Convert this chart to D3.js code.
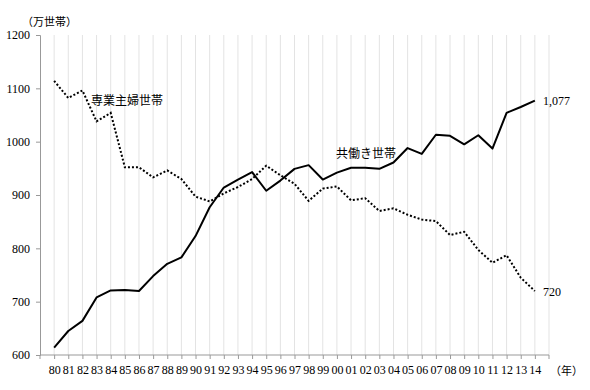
<!DOCTYPE html>
<html><head><meta charset="utf-8">
<script src="https://cdn.jsdelivr.net/npm/d3@7"></script>
<style>body{margin:0;background:#fff}svg{display:block}</style>
</head><body>
<svg id="c" width="590" height="390"></svg>
<script>
const years = ["80","81","82","83","84","85","86","87","88","89","90","91","92","93","94","95","96","97","98","99","00","01","02","03","04","05","06","07","08","09","10","11","12","13","14"];
const housewife = [1114,1082,1096,1038,1054,952,952,933,946,930,897,888,903,915,930,955,937,921,889,912,916,890,894,870,875,863,854,851,825,831,797,773,787,745,720];
const dualIncome = [614,645,664,708,721,722,720,748,771,783,823,877,914,929,943,908,927,949,956,929,942,951,951,949,961,988,977,1013,1011,995,1012,987,1054,1065,1077];
const yTicks = [600,700,800,900,1000,1100,1200];

const svg = d3.select("#c");
const L = 40, R = 549, T = 35, B = 355;
const x = d3.scalePoint().domain(years).range([L, R]).padding(1);
const y = d3.scaleLinear().domain([600, 1200]).range([B, T]);
const numFont = "'Liberation Serif', serif";
const jpFont = "'Noto Sans CJK JP', sans-serif";

// vertical gridlines
const gx = years.map(d => x(d)).concat([R]);
svg.append("g").selectAll("line").data(gx).join("line")
  .attr("x1", d => d).attr("x2", d => d).attr("y1", T).attr("y2", B)
  .attr("stroke", "#e3e3e3").attr("stroke-width", 1);

// y axis
const ya = svg.append("g").attr("transform", `translate(${L},0)`)
  .call(d3.axisLeft(y).tickValues(yTicks).tickSize(4).tickPadding(6).tickFormat(d3.format("d")));
ya.select(".domain").attr("stroke", "#999");
ya.selectAll(".tick line").attr("stroke", "#999");
ya.selectAll("text").attr("font-family", numFont).attr("font-size", 12).attr("fill", "#000");

// x axis
const xa = svg.append("g").attr("transform", `translate(0,${B})`)
  .call(d3.axisBottom(x).tickSize(4).tickPadding(6).tickSizeOuter(0));
xa.select(".domain").attr("stroke", "#999").attr("d", `M${L},0H${R}`);
xa.selectAll(".tick line").attr("stroke", "#999");
xa.selectAll("text").attr("font-family", numFont).attr("font-size", 12).attr("fill", "#000");
// outer tick marks
svg.append("g").selectAll("line").data([L, R]).join("line")
  .attr("x1", d => d).attr("x2", d => d).attr("y1", B).attr("y2", B + 4).attr("stroke", "#999");

const line = d3.line().x((d, i) => x(years[i])).y(d => y(d));
svg.append("path").datum(housewife).attr("d", line).attr("fill", "none")
  .attr("stroke", "#000").attr("stroke-width", 2).attr("stroke-dasharray", "2,2");
svg.append("path").datum(dualIncome).attr("d", line).attr("fill", "none")
  .attr("stroke", "#000").attr("stroke-width", 2).attr("stroke-linejoin", "round");

// labels
svg.append("text").attr("x", 22).attr("y", 26).attr("font-family", jpFont).attr("font-size", 11).text("（万世帯）");
svg.append("text").attr("x", 91).attr("y", 105).attr("font-family", jpFont).attr("font-size", 12).text("専業主婦世帯");
svg.append("text").attr("x", 336).attr("y", 158).attr("font-family", jpFont).attr("font-size", 12).text("共働き世帯");
svg.append("text").attr("x", 543).attr("y", 105).attr("font-family", numFont).attr("font-size", 12).text("1,077");
svg.append("text").attr("x", 543).attr("y", 296).attr("font-family", numFont).attr("font-size", 12).text("720");
svg.append("text").attr("x", 550).attr("y", 375).attr("font-family", jpFont).attr("font-size", 11).text("（年）");
</script>
</body></html>
